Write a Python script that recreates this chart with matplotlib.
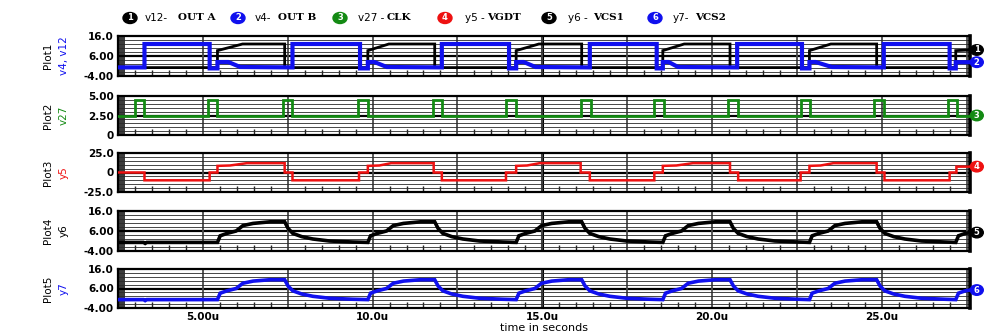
import matplotlib
matplotlib.use("Agg")
import matplotlib.pyplot as plt
from matplotlib.patches import Ellipse

# ---------------- data ----------------
# time axis in microseconds
x_ticks = [2.5, 5.0, 7.5, 10.0, 12.5, 15.0, 17.5, 20.0, 22.5, 25.0, 27.5]
x_ticklabels = ["", "5.00u", "", "10.0u", "", "15.0u", "", "20.0u", "", "25.0u", ""]

# v4 - OUT B (blue, Plot1)
v4_t = [2.50, 3.28, 3.28,
        5.20, 5.20, 5.43, 5.43, 5.75, 6.10, 7.64, 7.64,
        9.63, 9.63, 9.86, 9.86, 10.05, 10.42, 12.04, 12.04,
        14.02, 14.02, 14.23, 14.23, 14.45, 14.80, 16.40, 16.40,
        18.37, 18.37, 18.55, 18.55, 18.72, 19.00, 20.74, 20.74,
        22.65, 22.65, 22.87, 22.87, 23.05, 23.53, 25.06, 25.06,
        27.00, 27.00, 27.18, 27.18, 27.60]
v4_v = [0.3, 0.3, 12.0,
        12.0, -0.2, -0.2, 3.0, 3.0, 0.5, 0.3, 12.0,
        12.0, -0.2, -0.2, 3.0, 3.0, 0.5, 0.3, 12.0,
        12.0, -0.2, -0.2, 3.0, 3.0, 0.5, 0.3, 12.0,
        12.0, -0.2, -0.2, 3.0, 3.0, 0.5, 0.3, 12.0,
        12.0, -0.2, -0.2, 3.0, 3.0, 0.5, 0.3, 12.0,
        12.0, -0.2, -0.2, 2.9, 2.9]

# v12 - OUT A (black, Plot1)
v12_t = [2.50, 5.43, 5.43, 6.17, 7.41, 7.41,
         9.86, 9.86, 10.48, 11.83, 11.83,
         14.23, 14.23, 14.90, 16.16, 16.16,
         18.55, 18.55, 19.18, 20.53, 20.53,
         22.87, 22.87, 23.50, 24.85, 24.85,
         27.18, 27.18, 27.60]
v12_v = [0.2, 0.2, 8.7, 12.0, 12.0, 0.2,
         0.2, 8.7, 12.0, 12.0, 0.2,
         0.2, 8.7, 12.0, 12.0, 0.2,
         0.2, 8.7, 12.0, 12.0, 0.2,
         0.2, 8.7, 12.0, 12.0, 0.2,
         0.2, 8.7, 9.0]

# v27 - CLK (green, Plot2): pulse starts / ends, low and high level
clk_start = [2.99, 5.14, 7.35, 9.57, 11.77, 13.93, 16.13, 18.30, 20.47, 22.61, 24.77, 26.95]
clk_end = [3.28, 5.43, 7.64, 9.86, 12.04, 14.23, 16.42, 18.58, 20.76, 22.90, 25.06, 27.22]
clk_low, clk_high = 2.5, 4.5

# y5 - VGDT (red, Plot3)
y5_t = [2.50, 3.28, 3.28,
        5.20, 5.20, 5.43, 5.43, 5.80, 6.30, 7.41, 7.41, 7.64, 7.64,
        9.60, 9.60, 9.86, 9.86, 10.20, 10.55, 11.80, 11.80, 12.04, 12.04,
        13.93, 13.93, 14.23, 14.23, 14.55, 14.93, 16.13, 16.13, 16.40, 16.40,
        18.30, 18.30, 18.55, 18.55, 18.95, 19.44, 20.53, 20.53, 20.77, 20.77,
        22.61, 22.61, 22.87, 22.87, 23.20, 23.58, 24.85, 24.85, 25.08, 25.08,
        27.00, 27.00, 27.20, 27.20, 27.60]
y5_v = [0.0, 0.0, -10.0,
        -10.0, 0.0, 0.0, 8.5, 9.0, 12.0, 12.0, 0.0, 0.0, -10.0,
        -10.0, 0.0, 0.0, 8.5, 9.0, 12.0, 12.0, 0.0, 0.0, -10.0,
        -10.0, 0.0, 0.0, 8.5, 9.0, 12.0, 12.0, 0.0, 0.0, -10.0,
        -10.0, 0.0, 0.0, 8.5, 9.0, 12.0, 12.0, 0.0, 0.0, -10.0,
        -10.0, 0.0, 0.0, 8.5, 9.0, 12.0, 12.0, 0.0, 0.0, -10.0,
        -10.0, 0.0, 0.0, 7.5, 7.5]

# y6 - VCS1 (black, Plot4)
y6_t = [2.50, 3.25, 3.30, 3.35,
        5.43, 5.51, 5.71, 5.98, 6.18, 6.48, 6.98, 7.41, 7.51, 7.65, 7.91, 8.24, 8.73, 9.41,
        9.86, 9.94, 10.14, 10.41, 10.61, 10.91, 11.41, 11.83, 11.93, 12.07, 12.33, 12.66, 13.15, 13.83,
        14.23, 14.31, 14.51, 14.78, 14.98, 15.28, 15.78, 16.16, 16.26, 16.40, 16.66, 16.99, 17.48, 18.16,
        18.55, 18.63, 18.83, 19.10, 19.30, 19.60, 20.10, 20.53, 20.63, 20.77, 21.03, 21.36, 21.85, 22.53,
        22.87, 22.95, 23.15, 23.42, 23.62, 23.92, 24.42, 24.85, 24.95, 25.09, 25.35, 25.68, 26.17, 26.85,
        27.18, 27.26, 27.46, 27.60]
y6_v = [0.3, 0.3, -0.2, 0.3,
        0.3, 3.6, 4.8, 6.0, 8.7, 9.8, 10.6, 10.6, 7.3, 4.8, 3.2, 2.0, 1.0, 0.5,
        0.3, 3.6, 4.8, 6.0, 8.7, 9.8, 10.6, 10.6, 7.3, 4.8, 3.2, 2.0, 1.0, 0.5,
        0.3, 3.6, 4.8, 6.0, 8.7, 9.8, 10.6, 10.6, 7.3, 4.8, 3.2, 2.0, 1.0, 0.5,
        0.3, 3.6, 4.8, 6.0, 8.7, 9.8, 10.6, 10.6, 7.3, 4.8, 3.2, 2.0, 1.0, 0.5,
        0.3, 3.6, 4.8, 6.0, 8.7, 9.8, 10.6, 10.6, 7.3, 4.8, 3.2, 2.0, 1.0, 0.5,
        0.3, 3.6, 4.8, 5.2]

# y7 - VCS2 (blue, Plot5) reads the same as VCS1
y7_t = [2.50, 3.25, 3.30, 3.35,
        5.43, 5.51, 5.71, 5.98, 6.18, 6.48, 6.98, 7.41, 7.51, 7.65, 7.91, 8.24, 8.73, 9.41,
        9.86, 9.94, 10.14, 10.41, 10.61, 10.91, 11.41, 11.83, 11.93, 12.07, 12.33, 12.66, 13.15, 13.83,
        14.23, 14.31, 14.51, 14.78, 14.98, 15.28, 15.78, 16.16, 16.26, 16.40, 16.66, 16.99, 17.48, 18.16,
        18.55, 18.63, 18.83, 19.10, 19.30, 19.60, 20.10, 20.53, 20.63, 20.77, 21.03, 21.36, 21.85, 22.53,
        22.87, 22.95, 23.15, 23.42, 23.62, 23.92, 24.42, 24.85, 24.95, 25.09, 25.35, 25.68, 26.17, 26.85,
        27.18, 27.26, 27.46, 27.60]
y7_v = [0.3, 0.3, -0.2, 0.3,
        0.3, 3.6, 4.8, 6.0, 8.7, 9.8, 10.5, 10.5, 7.3, 4.8, 3.2, 2.0, 1.0, 0.5,
        0.3, 3.6, 4.8, 6.0, 8.7, 9.8, 10.5, 10.5, 7.3, 4.8, 3.2, 2.0, 1.0, 0.5,
        0.3, 3.6, 4.8, 6.0, 8.7, 9.8, 10.5, 10.5, 7.3, 4.8, 3.2, 2.0, 1.0, 0.5,
        0.3, 3.6, 4.8, 6.0, 8.7, 9.8, 10.5, 10.5, 7.3, 4.8, 3.2, 2.0, 1.0, 0.5,
        0.3, 3.6, 4.8, 6.0, 8.7, 9.8, 10.5, 10.5, 7.3, 4.8, 3.2, 2.0, 1.0, 0.5,
        0.3, 3.6, 4.8, 5.2]

legend_nums = ["1", "2", "3", "4", "5", "6"]
legend_names = ["v12-", "v4-", "v27 -", "y5 -", "y6 -", "y7-"]
legend_descs = ["OUT A", "OUT B", "CLK", "VGDT", "VCS1", "VCS2"]
legend_colors = ["#000000", "#1010ee", "#138a13", "#ee1111", "#000000", "#1010ee"]

# ---------------- build CLK step series from pulse edges ----------------
clk_t = [2.5]
clk_v = [clk_low]
for s, e in zip(clk_start, clk_end):
    clk_t += [s, s, e, e]
    clk_v += [clk_low, clk_high, clk_high, clk_low]
clk_t.append(27.6)
clk_v.append(clk_low)

# ---------------- figure ----------------
W, H = 1004, 334
fig = plt.figure(figsize=(W / 100, H / 100), dpi=100)
XMIN, XMAX = 2.5, 27.6
L_PX, R_PX = 118, 970

BLUE = "#1010ee"
GREEN = "#138a13"
RED = "#ee1111"

panels = [
    dict(top=36, bot=76, ylim=(-4, 16), ticks=[-4, 6, 16], labels=["-4.00", "6.00", "16.0"],
         name="Plot1", sig="v4, v12", sigc=BLUE,
         series=[(v12_t, v12_v, "#000000", 2.0), (v4_t, v4_v, BLUE, 3.0)],
         markers=[("1", "#000000", v12_v[-1]), ("2", BLUE, v4_v[-1])]),
    dict(top=96, bot=135, ylim=(0, 5), ticks=[0, 2.5, 5], labels=["0", "2.50", "5.00"],
         name="Plot2", sig="v27", sigc=GREEN,
         series=[(clk_t, clk_v, GREEN, 2.0)],
         markers=[("3", GREEN, clk_v[-1])]),
    dict(top=153, bot=192, ylim=(-25, 25), ticks=[-25, 0, 25], labels=["-25.0", "0", "25.0"],
         name="Plot3", sig="y5", sigc=RED,
         series=[(y5_t, y5_v, RED, 1.8)],
         markers=[("4", RED, y5_v[-1])]),
    dict(top=211, bot=251, ylim=(-4, 16), ticks=[-4, 6, 16], labels=["-4.00", "6.00", "16.0"],
         name="Plot4", sig="y6", sigc="#000000",
         series=[(y6_t, y6_v, "#000000", 2.6)],
         markers=[("5", "#000000", y6_v[-1])]),
    dict(top=269, bot=308, ylim=(-4, 16), ticks=[-4, 6, 16], labels=["-4.00", "6.00", "16.0"],
         name="Plot5", sig="y7", sigc=BLUE,
         series=[(y7_t, y7_v, BLUE, 2.6)],
         markers=[("6", BLUE, y7_v[-1])]),
]

tick_font = dict(family="DejaVu Sans", size=7.5, weight="bold")

for i, p in enumerate(panels):
    hpx = p["bot"] - p["top"]
    ax = fig.add_axes([L_PX / W, 1 - p["bot"] / H, (R_PX - L_PX) / W, hpx / H])
    ymin, ymax = p["ylim"]
    ax.set_xlim(XMIN, XMAX)
    ax.set_ylim(ymin, ymax)

    # dark band at the left edge
    ax.axvspan(XMIN, XMIN + 0.2, color="#3c3c3c", zorder=0.5, lw=0)

    # horizontal grid (10 divisions) + thick middle line
    step = (ymax - ymin) / 10.0
    ax.set_yticks([ymin + k * step for k in range(1, 10)], minor=True)
    ax.set_yticks(p["ticks"])
    ax.set_yticklabels(p["labels"], fontdict=tick_font)
    ax.grid(which="minor", axis="y", color="#2a2a2a", lw=0.6, zorder=1)
    ax.axhline(p["ticks"][1], color="#000000", lw=1.6, zorder=1.2)

    # vertical grid every 2.5u, minor ticks every 0.5u
    ax.set_xticks(x_ticks)
    ax.set_xticks([XMIN + 0.5 * k for k in range(0, 51) if (XMIN + 0.5 * k) <= XMAX], minor=True)
    ax.grid(which="major", axis="x", color="#4a4a4a", lw=1.3, zorder=1)
    ax.axvline(15.0, color="#000000", lw=2.2, zorder=1.3)

    ax.tick_params(axis="y", which="both", length=0, pad=3)
    ax.tick_params(axis="x", which="major", direction="in", length=0, pad=3)
    ax.tick_params(axis="x", which="minor", direction="in", length=4, width=1.0, color="#222222")
    if i == len(panels) - 1:
        ax.set_xticklabels(x_ticklabels, fontdict=tick_font)
    else:
        ax.set_xticklabels([""] * len(x_ticks))

    for s in ax.spines.values():
        s.set_linewidth(1.6)
        s.set_color("#000000")
    ax.spines["right"].set_linewidth(2.6)

    for (tt, vv, c, lw) in p["series"]:
        ax.plot(tt, vv, color=c, lw=lw, zorder=3, solid_joinstyle="miter")

    # numbered markers at the right edge, at each trace's last value
    ew = 13.0 / ((R_PX - L_PX) / (XMAX - XMIN))
    eh = 10.5 * (ymax - ymin) / hpx
    for num, c, lastv in p["markers"]:
        xc = XMAX + 0.20
        e = Ellipse((xc, lastv), ew, eh, facecolor=c, edgecolor=c, clip_on=False, zorder=5)
        ax.add_patch(e)
        ax.text(xc, lastv, num, color="white", ha="center", va="center", fontsize=6,
                fontweight="bold", clip_on=False, zorder=6)

    # left labels
    yc = (p["top"] + p["bot"]) / 2.0
    fig.text(48 / W, 1 - yc / H, p["name"], rotation=90, ha="center", va="center",
             fontsize=7.5, family="DejaVu Sans")
    fig.text(64 / W, 1 - yc / H, p["sig"], rotation=90, ha="center", va="center",
             fontsize=7.5, family="DejaVu Sans", color=p["sigc"])

# x-axis title
fig.text(544 / W, 1 - 328 / H, "time in seconds", ha="center", va="center",
         fontsize=8, family="DejaVu Sans")

# legend at the top
leg_cx = [130, 238, 340, 445, 549, 655]
leg_name_x = [145, 255, 358, 465, 568, 673]
leg_desc_x = [178, 278, 387, 487, 593, 695]
LEG_Y = 18
for k in range(6):
    e = Ellipse((leg_cx[k] / W, 1 - LEG_Y / H), 14 / W, 11 / H, transform=fig.transFigure,
                facecolor=legend_colors[k], edgecolor=legend_colors[k])
    fig.add_artist(e)
    fig.text(leg_cx[k] / W, 1 - LEG_Y / H, legend_nums[k], color="white", ha="center",
             va="center", fontsize=6, fontweight="bold")
    fig.text(leg_name_x[k] / W, 1 - LEG_Y / H, legend_names[k], ha="left", va="center",
             fontsize=7.5, family="DejaVu Sans")
    fig.text(leg_desc_x[k] / W, 1 - LEG_Y / H, legend_descs[k], ha="left", va="center",
             fontsize=7.5, family="DejaVu Serif", fontweight="bold")

fig.savefig("out.png", dpi=100)
